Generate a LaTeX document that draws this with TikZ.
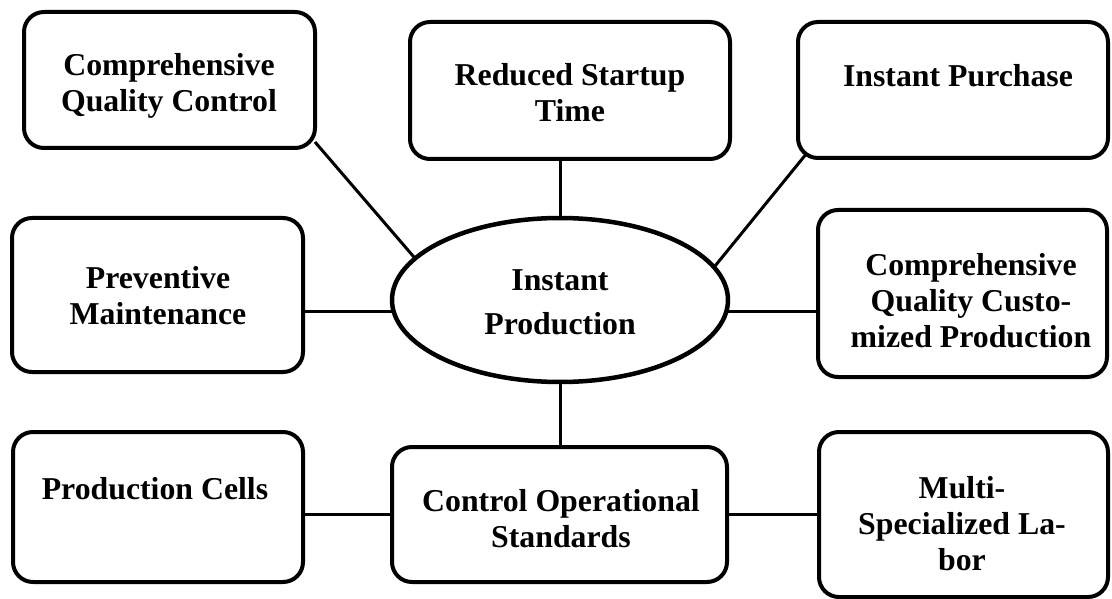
\documentclass[tikz,border=0pt]{standalone}
\usepackage{fontspec}
\setmainfont{Liberation Serif}
\usetikzlibrary{shapes.geometric,calc}
\tikzset{
  box/.style={draw, line width=4pt, rounded corners=20pt, inner sep=0pt, outer sep=0pt},
  oval/.style={draw, ellipse, line width=4.5pt, inner sep=0pt, outer sep=0pt},
  lbl/.style={font=\fontsize{31.8}{36}\selectfont\bfseries, align=center, inner sep=0pt, anchor=base},
  link/.style={line width=3pt}
}
\begin{document}
\begin{tikzpicture}[x=1pt,y=-1pt]
\useasboundingbox (0,0) rectangle (1112,599);
% boxes
\node[box, minimum width=291pt, minimum height=136pt] (cqc)  at (169.5,80) {};
\node[box, minimum width=320pt, minimum height=137pt] (rst)  at (570,90.5) {};
\node[box, minimum width=310pt, minimum height=136pt] (ip)   at (953,90) {};
\node[box, minimum width=291pt, minimum height=154pt] (pm)   at (157.5,295) {};
\node[oval, minimum width=336pt, minimum height=164pt] (ell) at (560,300) {};
\node[box, minimum width=289pt, minimum height=167pt] (cqcp) at (962.5,293.5) {};
\node[box, minimum width=290pt, minimum height=150pt] (pc)   at (158,507) {};
\node[box, minimum width=335pt, minimum height=135pt] (cos)  at (559.5,514.5) {};
\node[box, minimum width=289pt, minimum height=165pt] (ml)   at (963.5,514.5) {};
% labels (anchor base = baseline of the last line)
\node[lbl] (tcqc)  at (169,112) {Comprehensive\\Quality Control};
\node[lbl] (trst)  at (570,122) {Reduced Startup\\Time};
\node[lbl] (tip)   at (958,87)  {Instant Purchase};
\node[lbl] (tpm)   at (158,324) {Preventive\\Maintenance};
\node[lbl, font=\fontsize{31.8}{44}\selectfont\bfseries] (tell) at (560,334) {Instant\\Production};
\node[lbl] (tcqcp) at (971,347) {Comprehensive\\Quality Custo-\\mized Production};
\node[lbl] (tpc)   at (155,499) {Production Cells};
\node[lbl] (tcos)  at (561,547) {Control Operational\\Standards};
\node[lbl] (tml)   at (962,570) {Multi-\\Specialized La-\\bor};
% connectors
\coordinate (cqcend) at ($(cqc.south east)+(0,-6)$);
\coordinate (ipend) at ($(ip.south west)+(9,-5)$);
\draw[link] (cqcend) -- (ell.164);
\draw[link] (ell.north) -- (ell.north |- rst.south);
\draw[link] (ipend) -- (ell.12);
\draw[link] (ell.184) -- (ell.184 -| pm.east);
\draw[link] (ell.-4.5) -- (ell.-4.5 -| cqcp.west);
\draw[link] (ell.south) -- (ell.south |- cos.north);
\draw[link] (cos.west) -- (cos.west -| pc.east);
\draw[link] (cos.east) -- (ml.west);
\end{tikzpicture}
\end{document}
